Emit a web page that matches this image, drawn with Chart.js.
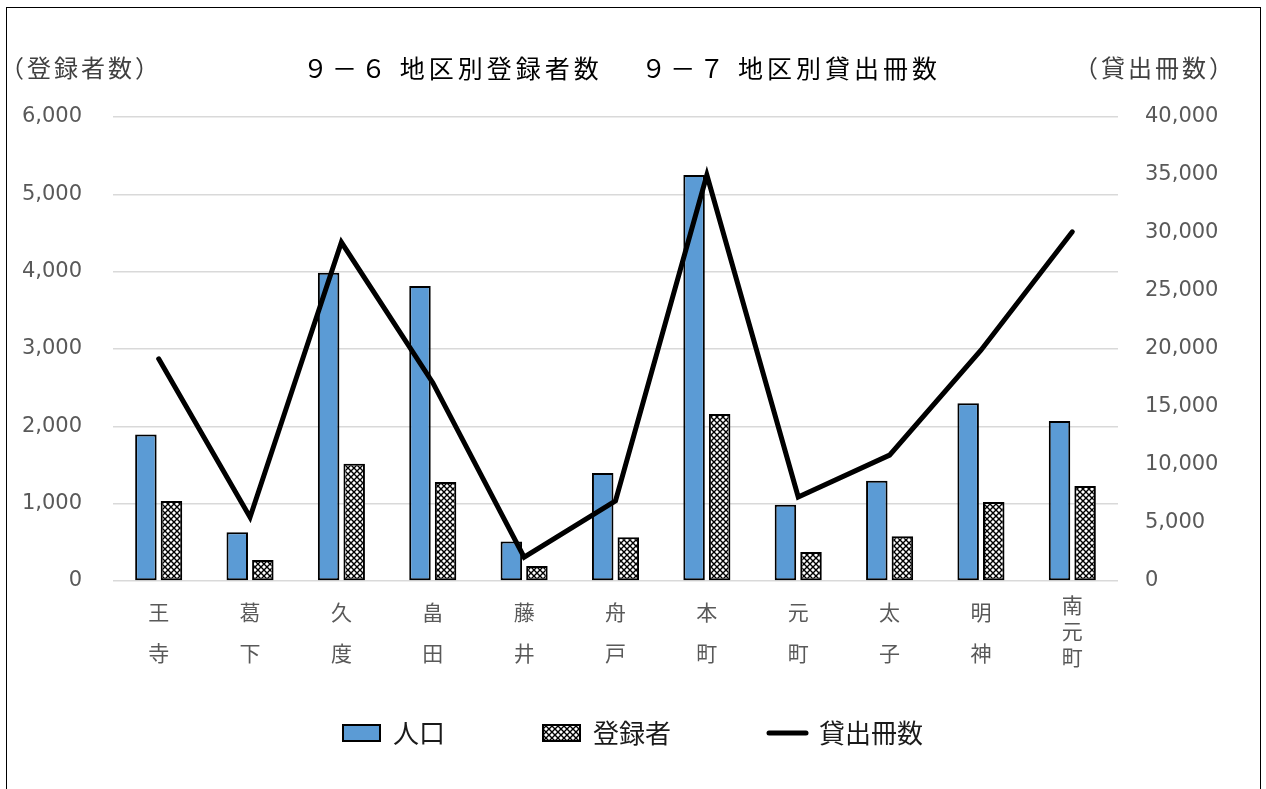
<!DOCTYPE html>
<html lang="ja">
<head>
<meta charset="utf-8">
<title>地区別登録者数・地区別貸出冊数</title>
<script src="https://cdn.jsdelivr.net/npm/chart.js@4.4.1/dist/chart.umd.min.js"></script>
<style>
    html, body { margin: 0; padding: 0; background: #fff; }
    #wrap { position: relative; width: 1266px; height: 789px; overflow: hidden; }
    #frame {
        position: absolute; left: 6px; top: 7px; width: 1255px; height: 800px;
        border: 1px solid #000; box-sizing: border-box; pointer-events: none;
    }
    canvas { position: absolute; left: 0; top: 0; }
</style>
</head>
<body>
<div id="wrap">
    <canvas id="districtChart" width="1266" height="789"></canvas>
    <div id="frame"></div>
</div>
<script>
// Data
const districts = [
    ['王', '寺'], ['葛', '下'], ['久', '度'], ['畠', '田'], ['藤', '井'], ['舟', '戸'],
    ['本', '町'], ['元', '町'], ['太', '子'], ['明', '神'], ['南', '元', '町']
];
const seriesNames = ['人口', '登録者', '貸出冊数'];
const population = [1895, 630, 3985, 3815, 510, 1395, 5250, 985, 1295, 2300, 2070];
const registrants = [1035, 270, 1515, 1280, 195, 565, 2160, 375, 580, 1020, 1230];
const loans = [19150, 5500, 29200, 17100, 2050, 6900, 35000, 7250, 10850, 19900, 30100];

const leftTicks = [0, 1000, 2000, 3000, 4000, 5000, 6000];
const rightTicks = [0, 5000, 10000, 15000, 20000, 25000, 30000, 35000, 40000];

const chartTitle = '９－６ 地区別登録者数　 ９－７ 地区別貸出冊数';
const leftAxisName = '（登録者数）';
const rightAxisName = '（貸出冊数）';

const CJK = '"Noto Sans CJK JP", "Noto Sans", sans-serif';
const NUM = '"DejaVu Sans", "Noto Sans", sans-serif';

// Cross-hatch fill for the 登録者 bars
function makeHatch(ctx) {
    const c = document.createElement('canvas');
    c.width = 6;
    c.height = 6;
    const g = c.getContext('2d');
    g.fillStyle = '#fff';
    g.fillRect(0, 0, 6, 6);
    g.strokeStyle = '#000';
    g.lineWidth = 1.4;
    g.beginPath();
    g.moveTo(-1, -1); g.lineTo(7, 7);
    g.moveTo(7, -1); g.lineTo(-1, 7);
    g.stroke();
    return ctx.createPattern(c, 'repeat');
}

// Title and axis names above the plot
const headerText = {
    id: 'headerText',
    afterDraw(chart) {
        const { ctx, chartArea } = chart;
        const y = chartArea.top - 49;
        ctx.save();
        ctx.textBaseline = 'middle';
        ctx.textAlign = 'center';
        ctx.fillStyle = '#000';
        ctx.font = '25px ' + CJK;
        ctx.letterSpacing = '4px';
        ctx.fillText(chartTitle, 622, y);
        ctx.letterSpacing = '3px';
        ctx.fillStyle = '#404040';
        ctx.font = '24px ' + CJK;
        ctx.fillText(leftAxisName, 81, y);
        ctx.fillText(rightAxisName, 1155, y);
        ctx.restore();
    }
};

const canvas = document.getElementById('districtChart');
const hatch = makeHatch(canvas.getContext('2d'));

new Chart(canvas, {
    type: 'bar',
    data: {
        labels: districts,
        datasets: [
            {
                label: seriesNames[0],
                data: population,
                backgroundColor: '#5B9BD5',
                borderColor: '#000',
                borderWidth: 2,
                borderSkipped: false,
                categoryPercentage: 0.56,
                barPercentage: 0.84,
                yAxisID: 'y',
                order: 1
            },
            {
                label: seriesNames[1],
                data: registrants,
                backgroundColor: hatch,
                borderColor: '#000',
                borderWidth: 2,
                borderSkipped: false,
                categoryPercentage: 0.56,
                barPercentage: 0.84,
                yAxisID: 'y',
                order: 1
            },
            {
                type: 'line',
                label: seriesNames[2],
                data: loans,
                borderColor: '#000',
                borderWidth: 5,
                borderCapStyle: 'round',
                borderJoinStyle: 'miter',
                pointRadius: 0,
                tension: 0,
                fill: false,
                yAxisID: 'y2',
                order: 0
            }
        ]
    },
    options: {
        responsive: false,
        animation: false,
        devicePixelRatio: 1,
        layout: {
            padding: { top: 117, left: 0, right: 0, bottom: 33 }
        },
        plugins: {
            title: { display: false },
            tooltip: { enabled: false },
            legend: {
                display: true,
                position: 'bottom',
                labels: {
                    usePointStyle: true,
                    pointStyleWidth: 37,
                    boxHeight: 16,
                    padding: 20,
                    color: '#1a1a1a',
                    font: { family: CJK, size: 26 },
                    generateLabels(chart) {
                        return chart.data.datasets.map((ds, i) => {
                            const isLine = ds.type === 'line';
                            return {
                                // trailing ideographic spaces widen the gap between entries
                                text: ds.label + (i < chart.data.datasets.length - 1 ? '\u3000\u3000\u3000' : ''),
                                fillStyle: isLine ? 'rgba(0,0,0,0)' : ds.backgroundColor,
                                strokeStyle: '#000',
                                lineWidth: isLine ? 5 : 2,
                                lineCap: isLine ? 'round' : 'butt',
                                pointStyle: isLine ? 'line' : 'rect',
                                fontColor: '#1a1a1a',
                                hidden: false,
                                datasetIndex: i
                            };
                        });
                    }
                }
            }
        },
        scales: {
            x: {
                offset: true,
                grid: { display: false, drawTicks: false },
                border: { display: false },
                ticks: {
                    autoSkip: false,
                    maxRotation: 0,
                    minRotation: 0,
                    padding: 11,
                    color: '#595959',
                    font: (c) => ({
                        family: CJK,
                        size: 21,
                        lineHeight: (districts[c.index] || []).length > 2 ? 1.24 : 1.95
                    })
                },
                afterFit(scale) { scale.height = 119; }
            },
            y: {
                position: 'left',
                min: leftTicks[0],
                max: leftTicks[leftTicks.length - 1],
                grid: { color: '#D9D9D9', lineWidth: 1.5, drawTicks: false },
                border: { display: false },
                ticks: {
                    stepSize: leftTicks[1] - leftTicks[0],
                    padding: 31,
                    color: '#595959',
                    font: { family: NUM, size: 21 },
                    callback: (v) => v.toLocaleString('en-US')
                },
                afterFit(scale) { scale.width = 113; }
            },
            y2: {
                position: 'right',
                min: rightTicks[0],
                max: rightTicks[rightTicks.length - 1],
                grid: { display: false, drawTicks: false },
                border: { display: false },
                ticks: {
                    stepSize: rightTicks[1] - rightTicks[0],
                    padding: 27,
                    color: '#595959',
                    font: { family: NUM, size: 21 },
                    callback: (v) => v.toLocaleString('en-US')
                },
                afterFit(scale) { scale.width = 148; }
            }
        }
    },
    plugins: [headerText]
});
</script>
</body>
</html>
